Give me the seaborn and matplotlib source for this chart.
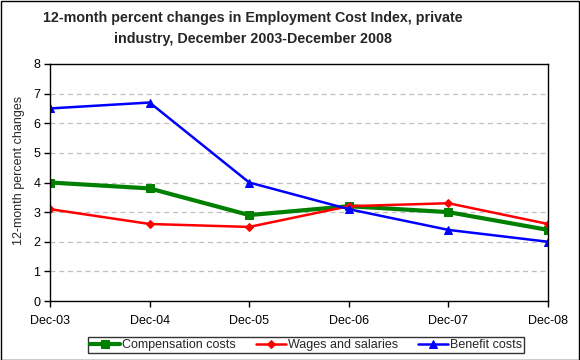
import matplotlib
matplotlib.use("Agg")
import matplotlib.pyplot as plt
import seaborn as sns
import pandas as pd
from matplotlib.patches import Rectangle

categories = ["Dec-03", "Dec-04", "Dec-05", "Dec-06", "Dec-07", "Dec-08"]
compensation = [4.0, 3.8, 2.9, 3.2, 3.0, 2.4]
wages = [3.1, 2.6, 2.5, 3.2, 3.3, 2.6]
benefits = [6.5, 6.7, 4.0, 3.1, 2.4, 2.0]
series_names = ["Compensation costs", "Wages and salaries", "Benefit costs"]

sns.set_style("white")
plt.rcParams['font.family'] = ['Liberation Sans', 'DejaVu Sans']

rows = []
for name, vals in zip(series_names, [compensation, wages, benefits]):
    for i, v in enumerate(vals):
        rows.append({"x": i, "value": v, "series": name})
df = pd.DataFrame(rows)

fig = plt.figure(figsize=(5.8, 3.6), dpi=100)
ax = fig.add_axes([50/580, 59/360, 498/580, 237/360])

styles = {
    "Compensation costs": dict(color="#008000", marker="s", lw=3, ms=6),
    "Wages and salaries": dict(color="#FF0000", marker="D", lw=1.8, ms=4.5),
    "Benefit costs": dict(color="#0000FF", marker="^", lw=1.8, ms=6),
}
for name in series_names:
    st = styles[name]
    sns.lineplot(data=df[df.series == name], x="x", y="value", ax=ax,
                 color=st["color"], marker=st["marker"], linewidth=st["lw"],
                 markersize=st["ms"], markeredgecolor=st["color"], label=name)

ax.set_xlim(0, len(categories) - 1)
ax.set_ylim(0, 8)
ax.set_xticks(range(len(categories)))
ax.set_xticklabels(categories)
ax.set_yticks(range(0, 9))
ax.yaxis.grid(True, color="#C0C0C0", linestyle=(0, (4, 3)), linewidth=0.9)
ax.set_axisbelow(True)
for s in ax.spines.values():
    s.set_color("black")
    s.set_linewidth(1)
ax.tick_params(axis="both", direction="out", length=4, width=1, colors="black",
               labelsize=9, bottom=True, left=True, pad=3)
ax.tick_params(axis="x", pad=6)
ax.set_xlabel("")
ax.set_ylabel("12-month percent changes", fontsize=9, labelpad=8)
ax.yaxis.set_label_coords(-0.05, 0.55)

fig.suptitle("12-month percent changes in Employment Cost Index, private\nindustry, December 2003-December 2008",
             fontsize=10.3, fontweight="bold", x=253/580, y=1 - 11/360, linespacing=1.65)

if ax.legend_:
    ax.legend_.remove()
handles, labels = ax.get_legend_handles_labels()
leg = fig.legend(handles, labels, ncol=3, loc="center", bbox_to_anchor=(306/580, 15/360),
                 fontsize=9, frameon=True, fancybox=False, edgecolor="black",
                 borderpad=0.15, columnspacing=1.6, handlelength=2.4, handletextpad=0.15,
                 borderaxespad=0)
leg.get_frame().set_linewidth(1)

fig.add_artist(Rectangle((0.5/580, 0.5/360), 578.5/580, 358.5/360, transform=fig.transFigure,
                         fill=False, edgecolor="black", linewidth=1))

fig.savefig("out.png", dpi=100)
